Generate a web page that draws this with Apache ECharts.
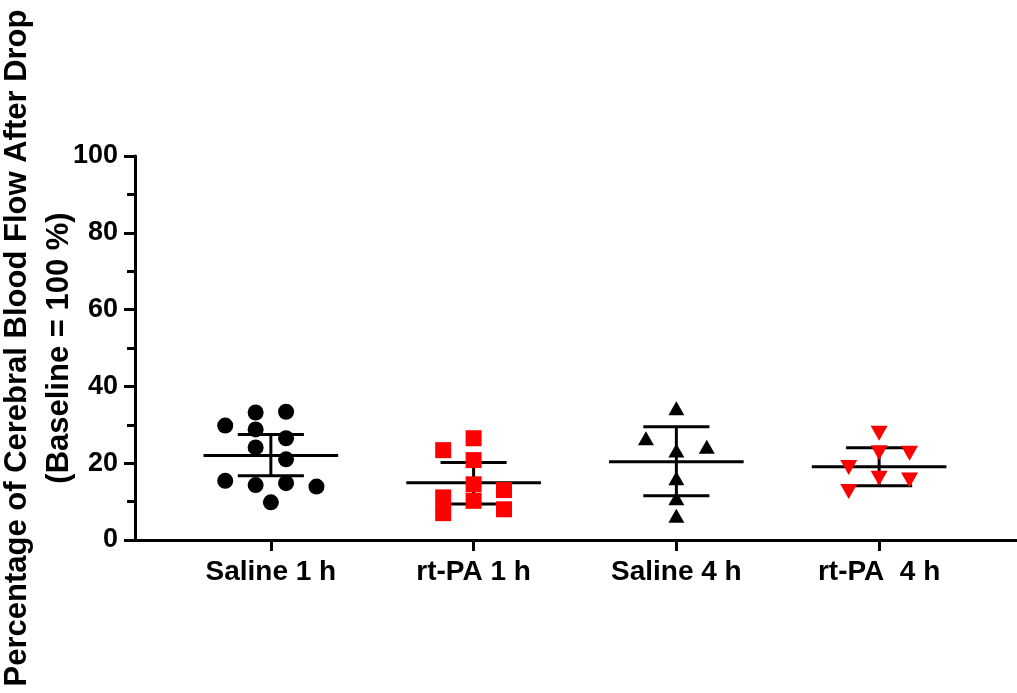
<!DOCTYPE html>
<html>
<head>
<meta charset="utf-8">
<script src="https://cdn.jsdelivr.net/npm/echarts@6/dist/echarts.min.js"></script>
<style>
  html, body { margin: 0; padding: 0; background: #fff; }
  #chart { width: 1017px; height: 693px; }
</style>
</head>
<body>
<div id="chart"></div>
<script>
// Group names along the x axis
const categories = ['Saline 1 h', 'rt-PA 1 h', 'Saline 4 h', 'rt-PA  4 h'];

// Individual animals: percentage of baseline flow
const salineOneHour = [29.8, 33.2, 33.4, 28.8, 26.5, 24.1, 21.0, 15.4, 14.3, 14.8, 13.9, 9.8];
const rtpaOneHour   = [23.4, 26.5, 20.8, 14.5, 13.0, 11.1, 10.2, 7.0, 8.0];
const salineFourHour = [34.3, 26.5, 24.3, 23.3, 16.1, 10.9, 6.3];
const rtpaFourHour  = [27.8, 22.7, 22.6, 18.9, 16.1, 15.6, 12.6];

// Column slot of each point inside its group (scatter spread)
const salineOneHourSlot = [-1.5, -0.5, 0.5, -0.5, 0.5, -0.5, 0.5, -1.5, -0.5, 0.5, 1.5, 0];
const rtpaOneHourSlot   = [-1, 0, 0, 0, 1, -1, 0, -1, 1];
const salineFourHourSlot = [0, -1, 1, 0, 0, 0, 0];
const rtpaFourHourSlot  = [0, 0, 1, -1, 0, 1, -1];

// Group mean with lower / upper error limits
const groupMean  = [22.0, 14.9, 20.4, 19.1];
const errorLower = [16.7, 9.4, 11.5, 14.1];
const errorUpper = [27.5, 20.2, 29.5, 24.0];

// Y axis ticks
const yTicks = [0, 20, 40, 60, 80, 100];

const SLOT_WIDTH = 0.15;      // spacing between point columns, in category units
const MEAN_HALF = 0.332;      // half length of the mean line
const CAP_HALF = 0.163;       // half length of the error caps
const FONT = 'Liberation Sans, Arial, sans-serif';

function toPoints(values, slots, groupIndex) {
  return values.map((v, i) => [groupIndex + 1 + slots[i] * SLOT_WIDTH, v]);
}

const summaryData = groupMean.map((m, i) => [i + 1, m, errorLower[i], errorUpper[i]]);

function renderSummary(params, api) {
  const x = api.value(0);
  const mean = api.value(1);
  const lo = api.value(2);
  const hi = api.value(3);
  const style = { stroke: '#000', lineWidth: 3, fill: null };
  const seg = (a, b) => {
    const p1 = api.coord(a), p2 = api.coord(b);
    return { type: 'line', shape: { x1: p1[0], y1: p1[1], x2: p2[0], y2: p2[1] }, style: style };
  };
  return {
    type: 'group',
    children: [
      seg([x - MEAN_HALF, mean], [x + MEAN_HALF, mean]),
      seg([x, lo], [x, hi]),
      seg([x - CAP_HALF, hi], [x + CAP_HALF, hi]),
      seg([x - CAP_HALF, lo], [x + CAP_HALF, lo])
    ]
  };
}

const chart = echarts.init(document.getElementById('chart'), null, { renderer: 'canvas' });

chart.setOption({
  animation: false,
  backgroundColor: '#fff',
  grid: { left: 135, right: 0, top: 156, bottom: 153, containLabel: false, outerBoundsMode: 'none' },
  xAxis: {
    type: 'value',
    min: 0.33,
    max: 4.68,
    splitLine: { show: false },
    axisLine: { show: true, lineStyle: { color: '#000', width: 3 } },
    axisTick: { show: true, customValues: [1, 2, 3, 4], length: 11, lineStyle: { color: '#000', width: 3 } },
    axisLabel: {
      customValues: [1, 2, 3, 4],
      formatter: v => categories[Math.round(v) - 1],
      color: '#000', fontFamily: FONT, fontWeight: 'bold', fontSize: 28, margin: 18
    }
  },
  yAxis: {
    type: 'value',
    min: yTicks[0],
    max: yTicks[yTicks.length - 1],
    interval: 20,
    name: 'Percentage of Cerebral Blood Flow After Drop\n(Baseline = 100 %)',
    nameLocation: 'middle',
    nameGap: 55,
    nameMoveOverlap: false,
    nameTextStyle: { color: '#000', fontFamily: FONT, fontWeight: 'bold', fontSize: 31, lineHeight: 42, align: 'center' },
    splitLine: { show: false },
    axisLine: { show: true, lineStyle: { color: '#000', width: 3 } },
    axisTick: { show: true, length: 11, lineStyle: { color: '#000', width: 3 } },
    minorTick: { show: true, splitNumber: 2, length: 8, lineStyle: { color: '#000', width: 3 } },
    axisLabel: { color: '#000', fontFamily: FONT, fontWeight: 'bold', fontSize: 27, margin: 17 }
  },
  series: [
    {
      type: 'custom',
      renderItem: renderSummary,
      data: summaryData,
      z: 2,
      silent: true
    },
    {
      type: 'scatter',
      symbol: 'circle',
      symbolSize: 16,
      itemStyle: { color: '#000', opacity: 1 },
      data: toPoints(salineOneHour, salineOneHourSlot, 0),
      z: 5
    },
    {
      type: 'scatter',
      symbol: 'rect',
      symbolSize: 16,
      itemStyle: { color: '#ff0000', opacity: 1 },
      data: toPoints(rtpaOneHour, rtpaOneHourSlot, 1),
      z: 5
    },
    {
      type: 'scatter',
      symbol: 'triangle',
      symbolSize: [16, 14],
      itemStyle: { color: '#000', opacity: 1 },
      data: toPoints(salineFourHour, salineFourHourSlot, 2),
      z: 5
    },
    {
      type: 'scatter',
      symbol: 'triangle',
      symbolRotate: 180,
      symbolSize: [17, 15],
      itemStyle: { color: '#ff0000', opacity: 1 },
      data: toPoints(rtpaFourHour, rtpaFourHourSlot, 3),
      z: 5
    }
  ]
});
</script>
</body>
</html>
